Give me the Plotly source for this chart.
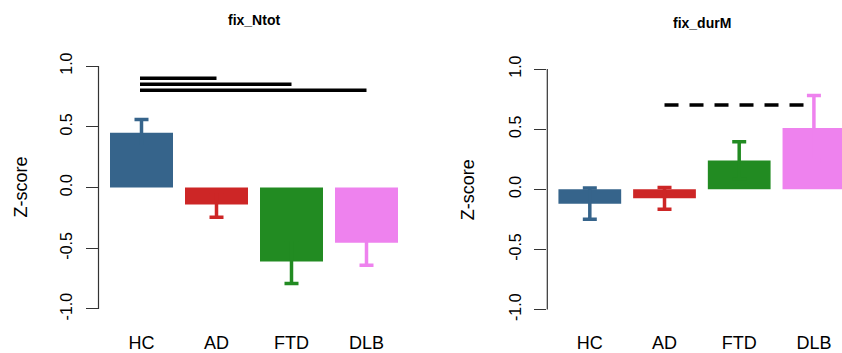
import plotly.graph_objects as go

# ---- data ----
categories = ["HC", "AD", "FTD", "DLB"]
bar_colors = ["#36648B", "#CD2626", "#228B22", "#EE82EE"]

ntot_mean = [0.45, -0.14, -0.61, -0.455]
ntot_se = [0.11, 0.105, 0.18, 0.185]

durm_mean = [-0.12, -0.075, 0.24, 0.51]
durm_se = [0.13, 0.09, 0.155, 0.27]

# significance bars: (from group, to group, height)
ntot_sig = [("HC", "AD", 0.90), ("HC", "FTD", 0.85), ("HC", "DLB", 0.80)]
durm_sig = [("AD", "DLB", 0.70)]

y_ticks = [-1.0, -0.5, 0.0, 0.5, 1.0]
y_ticklabels = ["-1.0", "-0.5", "0.0", "0.5", "1.0"]

W, H = 842, 353
FONT = "Liberation Sans, Arial, Helvetica, sans-serif"
xpos = list(range(len(categories)))

fig = go.Figure()

def add_panel_colored(means, ses, xa, ya):
    for i, (m, s) in enumerate(zip(means, ses)):
        fig.add_trace(go.Bar(
            x=[xpos[i]], y=[m], width=0.84,
            marker=dict(color=bar_colors[i], line=dict(width=0)),
            error_y=dict(type="data", array=[s], symmetric=True,
                         thickness=3.5, width=7, color=bar_colors[i]),
            xaxis=xa, yaxis=ya, showlegend=False, hoverinfo="skip",
        ))

add_panel_colored(ntot_mean, ntot_se, "x", "y")
add_panel_colored(durm_mean, durm_se, "x2", "y2")

# panel geometry (pixels)
L1, R1 = 98.5, 409.5
B1, T1 = 318.7, 56.3
L2 = 547.3
B2, T2 = 319.2, 59.4

xcommon = dict(showgrid=False, zeroline=False, showline=False, ticks="",
               tickvals=xpos, ticktext=categories, automargin=False,
               tickfont=dict(size=18, color="black", family=FONT),
               ticklabelstandoff=11, fixedrange=True)
ycommon = dict(showgrid=False, zeroline=False, showline=False, range=[-1.08, 1.08],
               tickvals=y_ticks, ticktext=y_ticklabels, ticks="outside", automargin=False,
               ticklen=12, tickwidth=1, tickcolor="#333333", tickangle=-90,
               tickfont=dict(size=16, color="black", family=FONT),
               ticklabelstandoff=7, fixedrange=True)

fig.update_layout(
    width=W, height=H,
    margin=dict(l=0, r=0, t=0, b=0, autoexpand=False),
    paper_bgcolor="white", plot_bgcolor="white",
    barmode="overlay",
    font=dict(family=FONT, color="black"),
    xaxis=dict(domain=[L1 / W, R1 / W], range=[-0.5733, 3.5733], anchor="y", **xcommon),
    yaxis=dict(domain=[(H - B1) / H, (H - T1) / H], anchor="x", **ycommon),
    xaxis2=dict(domain=[L2 / W, 1.0], range=[-0.569, 3.376], anchor="y2", **xcommon),
    yaxis2=dict(domain=[(H - B2) / H, (H - T2) / H], anchor="x2", **ycommon),
)

# R-style y axis lines spanning only the tick range
for xr, yr in [("x domain", "y"), ("x2 domain", "y2")]:
    fig.add_shape(type="line", xref=xr, yref=yr, x0=0, x1=0,
                  y0=y_ticks[0], y1=y_ticks[-1],
                  line=dict(color="#333333", width=1.2))

# significance lines
for a, b, h in ntot_sig:
    fig.add_shape(type="line", xref="x", yref="y",
                  x0=categories.index(a) - 0.02, x1=categories.index(b),
                  y0=h, y1=h, line=dict(color="black", width=3.5))
for a, b, h in durm_sig:
    fig.add_shape(type="line", xref="x2", yref="y2",
                  x0=categories.index(a), x1=categories.index(b),
                  y0=h, y1=h, line=dict(color="black", width=3.5, dash="14px,11px"))

# titles
fig.add_annotation(text="<b>fix_Ntot</b>", x=(L1 + R1) / 2 / W, y=(H - 20) / H,
                   xref="paper", yref="paper", showarrow=False,
                   font=dict(size=14, family=FONT), xanchor="center", yanchor="middle")
fig.add_annotation(text="<b>fix_durM</b>", x=702 / W, y=(H - 23) / H,
                   xref="paper", yref="paper", showarrow=False,
                   font=dict(size=14, family=FONT), xanchor="center", yanchor="middle")

# y axis titles
for xp, yc in [(20, 187.5), (468, 189.3)]:
    fig.add_annotation(text="Z-score", x=xp / W, y=(H - yc) / H,
                       xref="paper", yref="paper", showarrow=False, textangle=-90,
                       font=dict(size=18, family=FONT), xanchor="center", yanchor="middle")

fig.write_html("out.html", config={"displayModeBar": False},
               post_script="document.body.style.margin='0';document.body.style.padding='0';document.body.style.overflow='hidden';")
